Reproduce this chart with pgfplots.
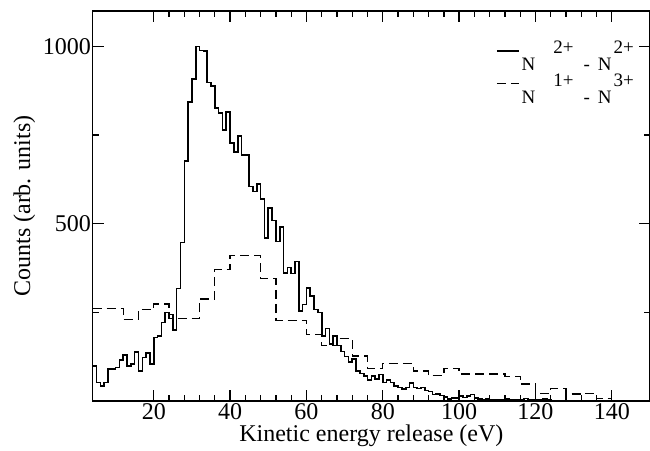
\documentclass[border=0pt]{standalone}
\usepackage{fontspec}
\setmainfont{Liberation Serif}
\usepackage{pgfplots}
\usepackage{pgfplotstable}
\pgfplotsset{compat=1.18}

\pgfplotstableread{
x y
4 99
5 52
6 43
7 52
8 90
9 90
10 95
11 116
12 129
13 99
14 104
15 138
16 85
17 123
18 135
19 104
20 179
21 183
22 221
23 250
24 244
25 200
26 317
27 447
28 677
29 844
30 909
31 1000
32 989
33 987
34 898
35 888
36 827
37 813
38 764
39 815
40 727
41 703
42 747
43 694
44 694
45 605
46 591
47 612
48 569
49 460
50 544
51 509
52 450
53 490
54 361
55 376
56 360
57 394
58 254
59 272
60 319
61 296
62 258
63 250
64 183
65 205
66 160
67 183
68 157
69 140
70 125
71 110
72 118
73 85
74 78
75 71
76 60
77 71
78 62
79 75
80 52
81 60
82 52
83 43
84 38
85 34
86 38
87 50
88 38
89 35
90 38
91 30
92 27
93 18
94 20
95 15
96 12
97 6
98 8
99 8
100 14
101 10
102 14
103 18
104 8
105 5
106 2
107 5
108 2
109 4
110 2
111 2
112 6
113 2
114 3
115 2
116 2
117 7
118 2
119 2
120 3
121 2
122 6
123 2
124 1
125 1
126 0
140 0
}\solid

\pgfplotstableread{
x y
4 261
8 261
12 230
16 258
20 274
24 233
28 233
32 288
36 371
40 411
44 411
48 345
52 228
56 228
60 188
64 157
68 176
72 127
76 92
80 106
84 106
88 85
92 71
96 92
100 76
104 76
108 76
112 70
116 48
120 22
124 36
128 20
132 22
136 7
140 7
}\dashed

\newcommand{\supr}[1]{\raisebox{17pt}[12pt][0pt]{#1}}

\begin{document}
\begin{tikzpicture}
\useasboundingbox (-92.7pt,-49pt) rectangle (557.3pt,401pt);
\begin{axis}[
  at={(0pt,0pt)}, anchor=south west,
  scale only axis, width=557.3pt, height=390pt,
  xmin=4, xmax=150, ymin=0, ymax=1100,
  xtick={20,40,...,140}, minor x tick num=4,
  ytick={500,1000}, minor ytick={250,750},
  xtick pos=both, ytick pos=both,
  xticklabel pos=lower, yticklabel pos=left,
  tick align=inside,
  major tick length=11pt, minor tick length=6pt,
  axis line style={line width=1.5pt},
  every tick/.style={line width=1.3pt, black},
  tick label style={font=\fontsize{24}{26}\selectfont},
  yticklabel style={inner sep=1.5pt},
  xticklabel style={inner sep=2pt},
  /pgf/number format/assume math mode=true,
  /pgf/number format/1000 sep={},
  xlabel={Kinetic energy release (eV)},
  ylabel={Counts (arb. units)},
  label style={font=\fontsize{24}{26}\selectfont},
  xlabel style={inner sep=0pt, yshift=-3pt},
  ylabel style={inner sep=6pt},
  legend style={draw=none, fill=none, at={(1,1)}, anchor=north east,
    xshift=-14pt, yshift=-39pt, inner sep=0pt,
    font=\fontsize{19}{20}\selectfont, row sep=9pt},
  legend cell align=left,
  legend image code/.code={\draw[#1] (0pt,14pt) -- (22pt,14pt);},
]
\addplot[const plot, line width=1.6pt, black] table[x=x,y=y] {\solid};
\addlegendentry{N\hspace{18pt}\supr{2+}\hspace{10pt}-\hspace{8pt}N\hspace{2pt}\supr{2+}}
\addplot[const plot, line width=1.3pt, black, dash pattern=on 9pt off 5pt] table[x=x,y=y] {\dashed};
\addlegendentry{N\hspace{18pt}\supr{1+}\hspace{10pt}-\hspace{8pt}N\hspace{2pt}\supr{3+}}
\end{axis}
\end{tikzpicture}
\end{document}
